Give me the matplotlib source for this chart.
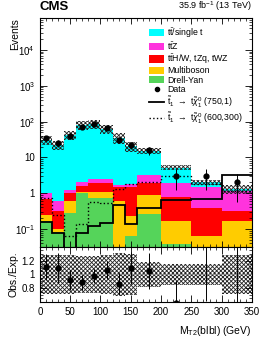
import numpy as np
import matplotlib
matplotlib.use('Agg')
import matplotlib.pyplot as plt
from matplotlib.patches import Patch
from matplotlib.lines import Line2D
from matplotlib.ticker import FixedLocator, MultipleLocator, LogLocator, NullFormatter

plt.rcParams['font.family'] = ['Liberation Sans', 'DejaVu Sans']
plt.rcParams['mathtext.fontset'] = 'custom'
plt.rcParams['mathtext.rm'] = 'Liberation Sans'
plt.rcParams['mathtext.it'] = 'Liberation Sans:italic'
plt.rcParams['mathtext.bf'] = 'Liberation Sans:bold'
plt.rcParams['hatch.linewidth'] = 0.6

#Binning (GeV)
edges = np.array([0, 20, 40, 60, 80, 100, 120, 140, 160, 200, 250, 300, 350])

#Backgrounds, per bin
dy = [0.17, 0.08, 0.28, 1.0, 0.74, 0.74, 0.0, 0.064, 0.26, 0.037, 0.0, 0.0]
multiboson = [0.07, 0.018, 0.32, 0.05, 0.33, 0.33, 0.6, 0.166, 0.66, 0.13, 0.064, 0.167]
ttx = [0.43, 0.22, 0.4, 0.55, 0.87, 0.86, 0.87, 1.27, 1.01, 0.6, 0.33, 0.15]
ttz = [0.35, 0.28, 0.2, 0.4, 0.56, 0.57, 0.23, 0.35, 1.27, 1.16, 1.08, 0.82]
tt = [29.6, 22.2, 42.4, 79.4, 84.2, 59.6, 34.3, 18.35, 12.0, 3.27, 0.59, 0.16]
#relative uncertainty of the total
rel_unc = [0.28, 0.28, 0.28, 0.27, 0.27, 0.28, 0.32, 0.30, 0.18, 0.16, 0.16, 0.28]

#Data
data = [34, 25, 40, 72, 85, 66, 31, 22, 16, 3, 3, 2]

#Signals
sig_750_1 = [0.16, 0.08, 0.01, 0.08, 0.12, 0.15, 0.48, 0.135, 0.375, 0.63, 0.67, 3.16]
sig_600_300 = [0.75, 0.24, 0.066, 0.135, 0.58, 0.54, 1.35, 1.8, 2.1, 2.96, 1.8, 1.14]

colors = ['#55d45a', '#ffcc00', '#ff0000', '#ff33dd', '#00ffff']
labels = [r'$\mathrm{t\bar{t}}$/single t', r'$\mathrm{t\bar{t}Z}$',
          r'$\mathrm{t\bar{t}H/W}$, tZq, tWZ', 'Multiboson', 'Drell-Yan']

centers = 0.5 * (edges[1:] + edges[:-1])
widths = np.diff(edges)
comps = [np.array(dy), np.array(multiboson), np.array(ttx), np.array(ttz), np.array(tt)]
total = np.sum(comps, axis=0)
unc = total * np.array(rel_unc)
data = np.array(data, dtype=float)
derr = np.sqrt(data)

fig = plt.figure(figsize=(2.66, 3.47), dpi=100)
ax = fig.add_axes([0.150, 0.288, 0.797, 0.660])
rax = fig.add_axes([0.150, 0.130, 0.797, 0.158], sharex=ax)

#Stack
base = np.full(len(total), 1e-4)
for c, col in zip(comps, colors):
    top = base + c
    ax.stairs(top, edges, baseline=base, fill=True, color=col, linewidth=0)
    base = top
ax.bar(edges[:-1], 2 * unc, width=widths, bottom=total - unc, align='edge',
       color='none', edgecolor='#222222', hatch='xxxxxxxx', linewidth=0)

#Signals
ax.stairs(sig_750_1, edges, baseline=None, color='black', linewidth=1.3)
ax.stairs(sig_600_300, edges, baseline=None, color='black', linewidth=1.0, linestyle=':')

#Data
ax.errorbar(centers, data, yerr=derr, fmt='o', color='black', markersize=3.5,
            elinewidth=0.7, capsize=0)

ax.set_yscale('log')
ax.set_ylim(0.0314, 7.8e4)
ax.set_xlim(0, 350)
ax.yaxis.set_major_locator(FixedLocator([0.1, 1, 10, 100, 1000, 10000]))
ax.set_yticklabels([r'$10^{-1}$', '1', '10', r'$10^{2}$', r'$10^{3}$', r'$10^{4}$'])
ax.yaxis.set_minor_locator(LogLocator(base=10, subs=np.arange(2, 10), numticks=20))
ax.yaxis.set_minor_formatter(NullFormatter())
ax.set_ylabel('Events', loc='top', fontsize=7.5)
ax.yaxis.set_label_coords(-0.095, 1.0)
plt.setp(ax.get_xticklabels(), visible=False)

#Ratio
ratio = data / total
rerr = derr / total
rel = np.array(rel_unc)
rax.bar(edges[:-1], 2 * rel, width=widths, bottom=1 - rel, align='edge',
        color='none', edgecolor='#222222', hatch='xxxxxxxx', linewidth=0)
rax.axhline(1, color='#888888', linewidth=0.6)
rax.errorbar(centers, ratio, yerr=rerr, fmt='o', color='black', markersize=3.5,
             elinewidth=0.7, capsize=0)
rax.set_ylim(0.6, 1.4)
rax.yaxis.set_major_locator(FixedLocator([0.8, 1.0, 1.2]))
rax.set_yticklabels(['0.8', '1', '1.2'])
rax.yaxis.set_minor_locator(MultipleLocator(0.05))
rax.xaxis.set_major_locator(MultipleLocator(50))
rax.xaxis.set_minor_locator(MultipleLocator(10))
rax.set_ylabel('Obs./Exp.', fontsize=7.5)
rax.yaxis.set_label_coords(-0.10, 0.5)
rax.set_xlabel(r'M$_{\mathrm{T2}}$(blbl) (GeV)', loc='right', fontsize=7.5, labelpad=5)

for a in (ax, rax):
    a.tick_params(which='both', direction='in', top=True, right=True, labelsize=7)
    a.tick_params(which='major', length=5, width=0.6)
    a.tick_params(which='minor', length=2.5, width=0.5)
    for s in a.spines.values():
        s.set_linewidth(0.8)
ax.tick_params(axis='x', which='major', length=4)

#Legend
handles = [Patch(facecolor=colors[4], edgecolor='none'),
           Patch(facecolor=colors[3], edgecolor='none'),
           Patch(facecolor=colors[2], edgecolor='none'),
           Patch(facecolor=colors[1], edgecolor='none'),
           Patch(facecolor=colors[0], edgecolor='none'),
           Line2D([], [], marker='o', color='black', linestyle='none', markersize=3),
           Line2D([], [], color='black', linewidth=1.3),
           Line2D([], [], color='black', linewidth=1.0, linestyle=':')]
leg_labels = labels + ['Data',
                       r'$\tilde{\mathrm{t}}_1\ \rightarrow\ \mathrm{t}\tilde{\chi}^0_1$ (750,1)',
                       r'$\tilde{\mathrm{t}}_1\ \rightarrow\ \mathrm{t}\tilde{\chi}^0_1$ (600,300)']
ax.legend(handles, leg_labels, loc='upper left', bbox_to_anchor=(0.515, 0.965),
          frameon=False, fontsize=6.3, handlelength=1.75, handleheight=0.9,
          labelspacing=0.05, handletextpad=0.35, borderaxespad=0, borderpad=0)

fig.text(0.150, 0.962, 'CMS', fontsize=9.5, fontweight='bold', ha='left', va='bottom')
fig.text(0.947, 0.962, r'35.9 fb$^{-1}$ (13 TeV)', fontsize=6.5, ha='right', va='bottom')

plt.savefig('out.png', dpi=100)
